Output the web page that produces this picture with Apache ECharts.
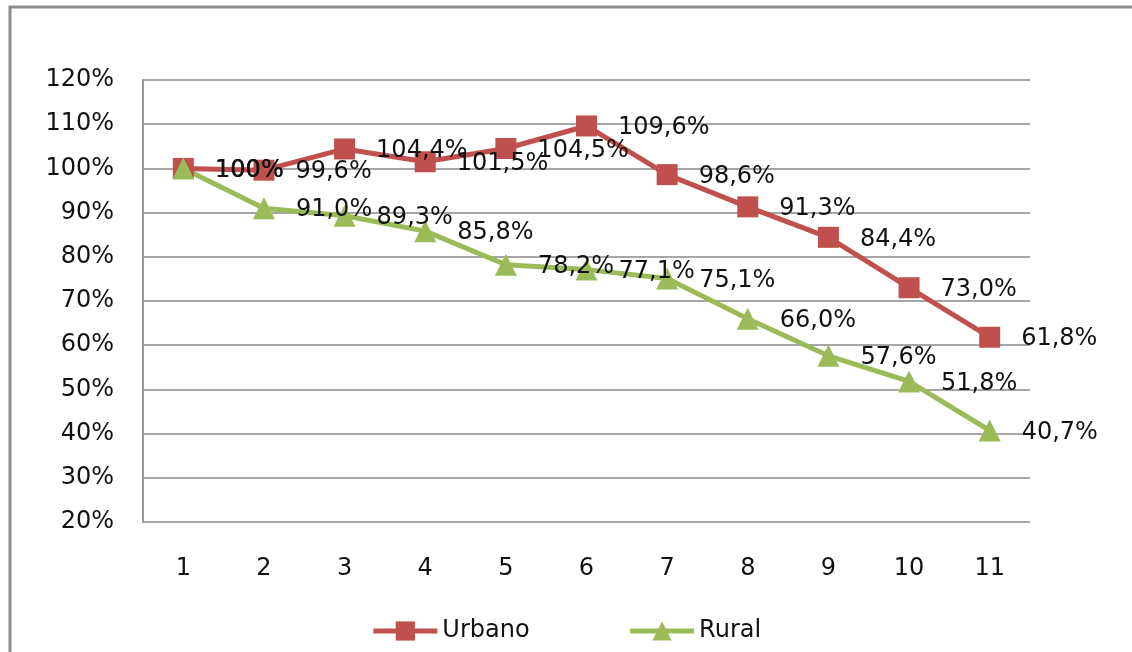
<!DOCTYPE html>
<html>
<head>
<meta charset="utf-8">
<script src="https://cdn.jsdelivr.net/npm/echarts@6/dist/echarts.min.js"></script>
<style>
  html, body { margin: 0; padding: 0; background: #fff; }
  #chart { width: 1132px; height: 652px; }
</style>
</head>
<body>
<div id="chart"></div>
<script>
const categories = ["1", "2", "3", "4", "5", "6", "7", "8", "9", "10", "11"];
const urbano = [100, 99.6, 104.4, 101.5, 104.5, 109.6, 98.6, 91.3, 84.4, 73.0, 61.8];
const rural = [100, 91.0, 89.3, 85.8, 78.2, 77.1, 75.1, 66.0, 57.6, 51.8, 40.7];

const FONT = "DejaVu Sans";
const FS = 24;
const RED = "#C0504D";
const GREEN = "#9BBB59";

// 100 -> "100%", 99.6 -> "99,6%"
function fmt(v) {
  if (v === 100) return "100%";
  return v.toFixed(1).replace(".", ",") + "%";
}

const chart = echarts.init(document.getElementById("chart"));

function makeSeries(name, data, color, symbol, size) {
  return {
    name: name,
    type: "line",
    data: data,
    color: color,
    symbol: symbol,
    symbolSize: size,
    lineStyle: { width: 5, color: color },
    itemStyle: { color: color },
    label: {
      show: true,
      position: "right",
      distance: 21,
      offset: [0, 2],
      fontFamily: FONT,
      fontSize: FS,
      color: "#111",
      formatter: (p) => fmt(p.value),
    },
    emphasis: { disabled: true },
    animation: false,
  };
}

chart.setOption({
  animation: false,
  textStyle: { fontFamily: FONT },
  graphic: [
    {
      type: "rect",
      shape: { x: 10, y: 7, width: 1300, height: 800 },
      style: { fill: "none", stroke: "#8c8c8c", lineWidth: 3 },
      silent: true,
    },
  ],
  grid: { left: 143, right: 102, top: 80, bottom: 130 },
  legend: {
    bottom: 4,
    left: "center",
    itemWidth: 64,
    itemHeight: 24,
    itemGap: 98,
    lineStyle: { width: 5 },
    textStyle: { fontFamily: FONT, fontSize: FS, color: "#111" },
    data: ["Urbano", "Rural"],
  },
  xAxis: {
    type: "category",
    data: categories,
    boundaryGap: true,
    axisLine: { show: false },
    axisTick: { show: false },
    axisLabel: { fontFamily: FONT, fontSize: FS, color: "#111", margin: 35 },
  },
  yAxis: {
    type: "value",
    min: 20,
    max: 120,
    interval: 10,
    axisLine: { show: true, lineStyle: { color: "#9a9a9a", width: 2 } },
    axisTick: { show: false },
    splitLine: { lineStyle: { color: "#a6a6a6", width: 2 } },
    axisLabel: { fontFamily: FONT, fontSize: FS, color: "#111", margin: 29, formatter: "{value}%" },
  },
  series: [
    makeSeries("Urbano", urbano, RED, "rect", 21),
    makeSeries("Rural", rural, GREEN, "triangle", 22),
  ],
});
</script>
</body>
</html>
